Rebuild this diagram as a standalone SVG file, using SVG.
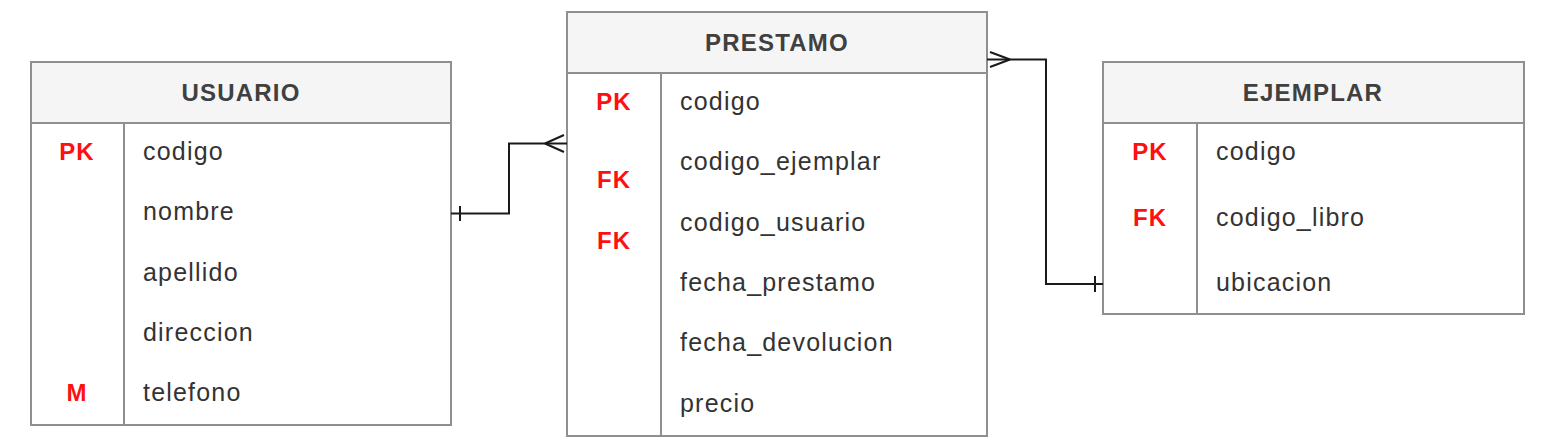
<svg xmlns="http://www.w3.org/2000/svg" width="1542" height="446" viewBox="0 0 1542 446">
<style>
.box{fill:#ffffff;stroke:#8f8f8f;stroke-width:2}
.hdr{fill:#f5f5f5;stroke:#8f8f8f;stroke-width:2}
.div{stroke:#8f8f8f;stroke-width:2}
.title{font-family:"Liberation Sans",Arial,sans-serif;font-size:24px;font-weight:bold;fill:#404040;text-anchor:middle;letter-spacing:1.2px}
.attr{font-family:"Liberation Sans",Arial,sans-serif;font-size:25px;fill:#333333;letter-spacing:1.2px}
.key{font-family:"Liberation Sans",Arial,sans-serif;font-size:24px;font-weight:bold;fill:#ff1010;text-anchor:middle;letter-spacing:1px}
.conn{fill:none;stroke:#1a1a1a;stroke-width:2}
</style>
<rect width="1542" height="446" fill="#ffffff"/>
<g id="usuario">
<rect class="box" x="31" y="62" width="420" height="363"/>
<rect class="hdr" x="31" y="62" width="420" height="61"/>
<line class="div" x1="124" y1="123" x2="124" y2="425"/>
<text class="title" x="241" y="101">USUARIO</text>
<text class="key" x="77" y="160">PK</text>
<text class="key" x="77" y="401">M</text>
<text class="attr" x="143" y="160">codigo</text>
<text class="attr" x="143" y="220">nombre</text>
<text class="attr" x="143" y="281">apellido</text>
<text class="attr" x="143" y="341">direccion</text>
<text class="attr" x="143" y="401">telefono</text>
</g>
<g id="prestamo">
<rect class="box" x="567" y="12" width="420" height="424"/>
<rect class="hdr" x="567" y="12" width="420" height="61"/>
<line class="div" x1="661" y1="73" x2="661" y2="436"/>
<text class="title" x="777" y="51">PRESTAMO</text>
<text class="key" x="614" y="110">PK</text>
<text class="key" x="614" y="188">FK</text>
<text class="key" x="614" y="249">FK</text>
<text class="attr" x="680" y="110">codigo</text>
<text class="attr" x="680" y="170">codigo_ejemplar</text>
<text class="attr" x="680" y="231">codigo_usuario</text>
<text class="attr" x="680" y="291">fecha_prestamo</text>
<text class="attr" x="680" y="351">fecha_devolucion</text>
<text class="attr" x="680" y="412">precio</text>
</g>
<g id="ejemplar">
<rect class="box" x="1103" y="62" width="421" height="252"/>
<rect class="hdr" x="1103" y="62" width="421" height="61"/>
<line class="div" x1="1197" y1="123" x2="1197" y2="314"/>
<text class="title" x="1313" y="101">EJEMPLAR</text>
<text class="key" x="1150" y="160">PK</text>
<text class="key" x="1150" y="226">FK</text>
<text class="attr" x="1216" y="160">codigo</text>
<text class="attr" x="1216" y="226">codigo_libro</text>
<text class="attr" x="1216" y="291">ubicacion</text>
</g>
<g id="connectors">
<path class="conn" d="M451 213.5 H509 V143.5 H567"/>
<line class="conn" x1="460" y1="206" x2="460" y2="221"/>
<path class="conn" d="M545 143.5 L564 135 M545 143.5 L564 152"/>
<path class="conn" d="M987 59.5 H1046 V284 H1103"/>
<path class="conn" d="M1010 59.5 L990 52 M1010 59.5 L990 67"/>
<line class="conn" x1="1095" y1="276" x2="1095" y2="292"/>
</g>
</svg>
